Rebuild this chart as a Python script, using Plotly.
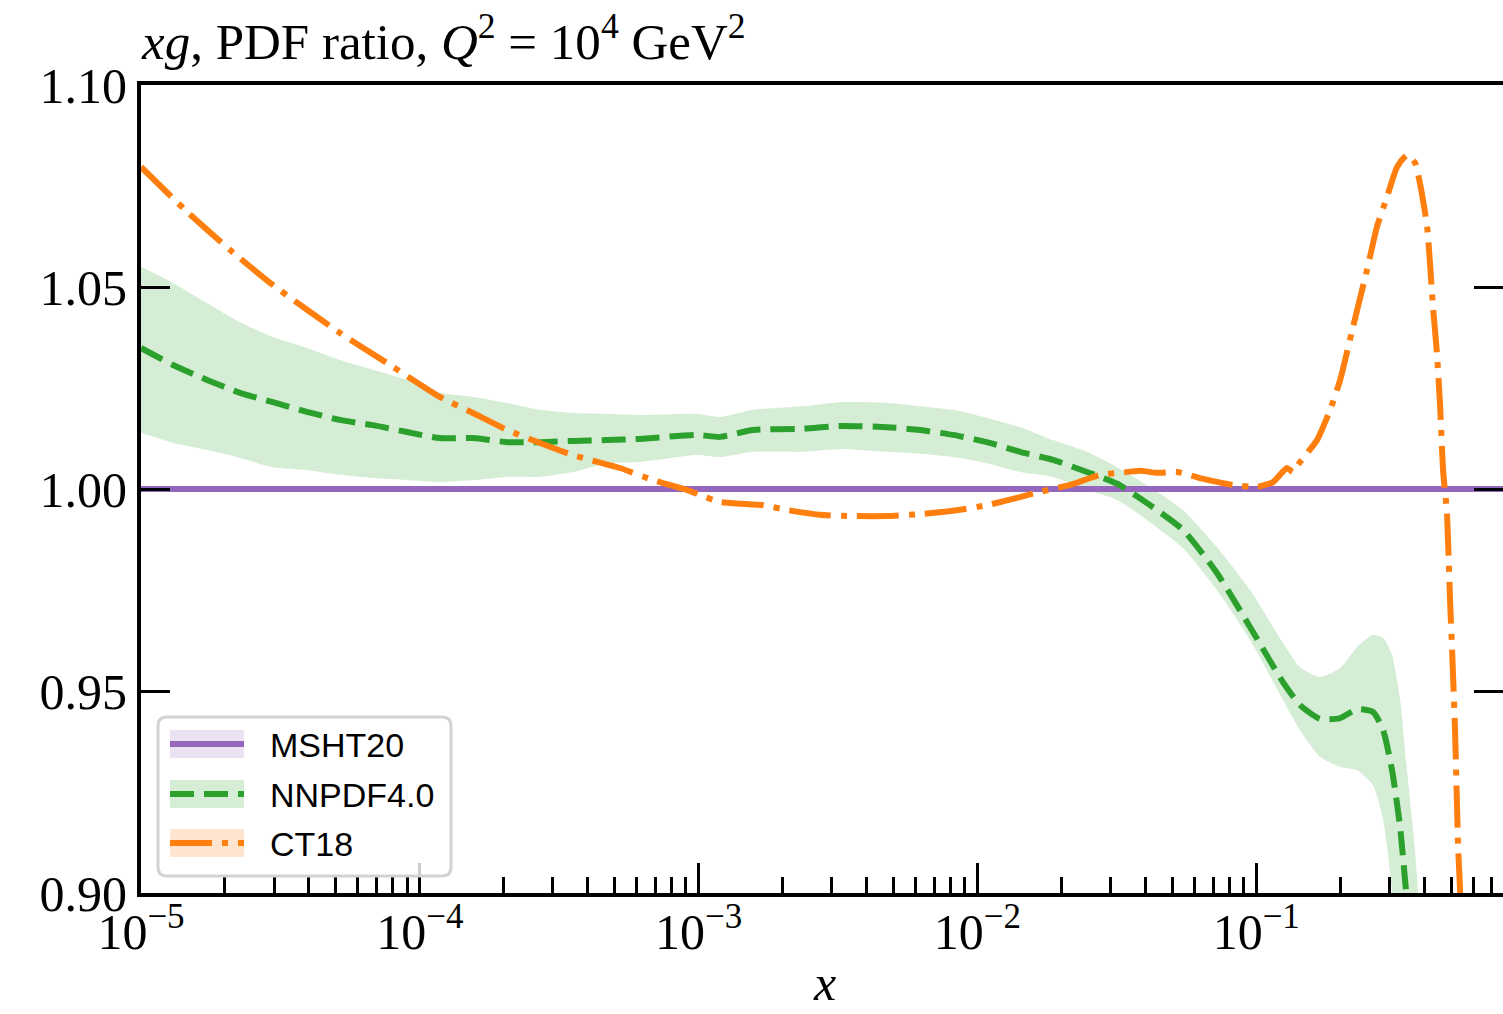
import math
import plotly.graph_objects as go

# Gluon PDF ratio to MSHT20 at Q^2 = 1e4 GeV^2

# MSHT20 (reference set, ratio identically one)
x_msht = [1.0e-5, 1.0]
r_msht = [1.0, 1.0]

# NNPDF4.0: central ratio and 1-sigma band
x_nnpdf = [1.000e-5, 1.303e-5, 1.726e-5, 2.265e-5, 2.972e-5, 3.936e-5, 5.176e-5, 6.792e-5, 8.995e-5,
           1.180e-4, 1.552e-4, 2.056e-4, 2.698e-4, 3.540e-4, 4.688e-4, 6.166e-4, 9.863e-4,
           1.194e-3, 1.567e-3, 2.366e-3, 3.214e-3, 4.742e-3, 6.223e-3, 8.166e-3,
           1.081e-2, 1.422e-2, 1.866e-2, 2.472e-2, 3.170e-2, 4.159e-2, 5.458e-2, 7.228e-2, 9.506e-2,
           0.1247, 0.1436, 0.1694, 0.2000, 0.2301, 0.2624, 0.2851, 0.3069, 0.3281, 0.3443, 0.3622, 0.3802]
r_nnpdf = [1.0349, 1.0307, 1.0270, 1.0238, 1.0215, 1.0191, 1.0171, 1.0158, 1.0141,
           1.0126, 1.0126, 1.0116, 1.0116, 1.0119, 1.0121, 1.0124, 1.0134,
           1.0129, 1.0146, 1.0149, 1.0156, 1.0153, 1.0146, 1.0134,
           1.0116, 1.0092, 1.0072, 1.0042, 1.0013, 0.9960, 0.9899, 0.9792, 0.9658,
           0.9522, 0.9465, 0.9431, 0.9433, 0.9455, 0.9448, 0.9403, 0.9304, 0.9163, 0.9007, 0.8850, 0.8700]
r_nnpdf_hi = [1.0550, 1.0510, 1.0460, 1.0413, 1.0376, 1.0349, 1.0319, 1.0295, 1.0270,
              1.0238, 1.0228, 1.0213, 1.0196, 1.0188, 1.0186, 1.0183, 1.0186,
              1.0178, 1.0196, 1.0205, 1.0215, 1.0213, 1.0205, 1.0196,
              1.0176, 1.0153, 1.0121, 1.0092, 1.0054, 1.0005, 0.9948, 0.9856, 0.9750,
              0.9619, 0.9559, 0.9535, 0.9557, 0.9609, 0.9639, 0.9631, 0.9589, 0.9478, 0.9329, 0.9181, 0.9007]
r_nnpdf_lo = [1.0139, 1.0114, 1.0097, 1.0077, 1.0054, 1.0047, 1.0035, 1.0027, 1.0022,
              1.0017, 1.0022, 1.0030, 1.0030, 1.0042, 1.0064, 1.0067, 1.0084,
              1.0079, 1.0092, 1.0092, 1.0099, 1.0092, 1.0087, 1.0079,
              1.0064, 1.0042, 1.0030, 0.9998, 0.9973, 0.9918, 0.9854, 0.9750, 0.9626,
              0.9478, 0.9403, 0.9337, 0.9312, 0.9304, 0.9267, 0.9181, 0.9007, 0.8700, 0.8500, 0.8300, 0.8100]

# CT18: central ratio
x_ct18 = [1.000e-5, 1.439e-5, 2.084e-5, 2.972e-5, 5.176e-5, 7.621e-5, 1.180e-4, 1.552e-4, 2.056e-4,
          2.698e-4, 3.540e-4, 5.224e-4, 6.855e-4, 9.078e-4, 1.012e-3, 1.194e-3, 1.702e-3, 2.075e-3,
          2.723e-3, 3.581e-3, 4.742e-3, 6.223e-3, 8.166e-3, 1.081e-2, 1.422e-2, 1.675e-2, 2.148e-2,
          2.754e-2, 3.243e-2, 3.828e-2, 4.406e-2, 5.200e-2, 6.281e-2, 8.260e-2, 0.1007, 0.1148,
          0.1288, 0.1355, 0.1436, 0.1652, 0.1841, 0.2000, 0.2223, 0.2495, 0.2710, 0.2944, 0.3199,
          0.3475, 0.3715, 0.3864, 0.4102, 0.4305, 0.4446, 0.4560, 0.4677, 0.4831, 0.4955, 0.5035,
          0.5164, 0.5297, 0.5383, 0.5521]
r_ct18 = [1.0797, 1.0691, 1.0592, 1.0505, 1.0386, 1.0312, 1.0228, 1.0188, 1.0146,
          1.0114, 1.0084, 1.0052, 1.0022, 0.9998, 0.9985, 0.9968, 0.9960, 0.9948,
          0.9936, 0.9933, 0.9933, 0.9938, 0.9946, 0.9960, 0.9980, 0.9993, 1.0010,
          1.0035, 1.0040, 1.0045, 1.0040, 1.0042, 1.0027, 1.0010, 1.0005, 1.0017,
          1.0052, 1.0042, 1.0067, 1.0121, 1.0196, 1.0270, 1.0401, 1.0542, 1.0649, 1.0723, 1.0797,
          1.0827, 1.0807, 1.0757, 1.0649, 1.0450, 1.0337, 1.0213, 1.0047, 0.9941, 0.9725, 0.9609,
          0.9403, 0.9114, 0.9007, 0.8800]

# axis ticks
y_ticks = [0.90, 0.95, 1.00, 1.05, 1.10]
y_ticktext = ["0.90", "0.95", "1.00", "1.05", "1.10"]
x_ticks = [1e-5, 1e-4, 1e-3, 1e-2, 1e-1]
x_ticktext = ["10<sup>\u22125</sup>", "10<sup>\u22124</sup>", "10<sup>\u22123</sup>",
              "10<sup>\u22122</sup>", "10<sup>\u22121</sup>"]
x_minor = [m * 10.0 ** e for e in range(-5, 0) for m in range(2, 10)]

legend_labels = ["MSHT20", "NNPDF4.0", "CT18"]

PURPLE = "#9467bd"
GREEN = "#2ca02c"
ORANGE = "#ff7f0e"

W, H = 1503, 1014
ML, MR, MT, MB = 141, 0, 85, 121
X_RANGE = [-5.0, -0.115]
Y_RANGE = [0.90, 1.10]

SERIF = "Liberation Serif"
SANS = "Liberation Sans"

fig = go.Figure()

# NNPDF4.0 uncertainty band
fig.add_trace(go.Scatter(
    x=x_nnpdf + x_nnpdf[::-1], y=r_nnpdf_hi + r_nnpdf_lo[::-1],
    fill="toself", fillcolor="rgba(44,160,44,0.2)", line=dict(width=0, shape="spline", smoothing=0.6),
    mode="lines", hoverinfo="skip", showlegend=False))

fig.add_trace(go.Scatter(
    x=x_msht, y=r_msht, mode="lines", line=dict(color=PURPLE, width=6), showlegend=False))

fig.add_trace(go.Scatter(
    x=x_nnpdf, y=r_nnpdf, mode="lines",
    line=dict(color=GREEN, width=6, dash="24px,10px", shape="spline", smoothing=0.6),
    showlegend=False))

fig.add_trace(go.Scatter(
    x=x_ct18, y=r_ct18, mode="lines",
    line=dict(color=ORANGE, width=6, dash="42px,10px,6px,10px", shape="spline", smoothing=0.5),
    showlegend=False))

# carrier for the right-hand tick axis
fig.add_trace(go.Scatter(x=[1e-5], y=[1.0], yaxis="y2", mode="markers",
                         marker=dict(opacity=0), hoverinfo="skip", showlegend=False))

plot_w = W - ML - MR
plot_h = H - MT - MB


def px_x(px):
    return (px - ML) / plot_w


def px_y(py):
    return (H - MB - py) / plot_h


shapes = []
annotations = []

# legend frame with rounded corners
lx0, lx1, ly0, ly1, rad = 158, 451, 717, 876, 9
path = (f"M {px_x(lx0 + rad)},{px_y(ly0)} L {px_x(lx1 - rad)},{px_y(ly0)} "
        f"Q {px_x(lx1)},{px_y(ly0)} {px_x(lx1)},{px_y(ly0 + rad)} "
        f"L {px_x(lx1)},{px_y(ly1 - rad)} Q {px_x(lx1)},{px_y(ly1)} {px_x(lx1 - rad)},{px_y(ly1)} "
        f"L {px_x(lx0 + rad)},{px_y(ly1)} Q {px_x(lx0)},{px_y(ly1)} {px_x(lx0)},{px_y(ly1 - rad)} "
        f"L {px_x(lx0)},{px_y(ly0 + rad)} Q {px_x(lx0)},{px_y(ly0)} {px_x(lx0 + rad)},{px_y(ly0)} Z")
shapes.append(dict(type="path", path=path, xref="paper", yref="paper", layer="above",
                   fillcolor="rgba(255,255,255,0.8)", line=dict(color="#d3d3d3", width=3)))

entry_style = [
    (PURPLE, "rgba(148,103,189,0.2)", "solid"),
    (GREEN, "rgba(44,160,44,0.2)", "24px,10px"),
    (ORANGE, "rgba(255,127,14,0.2)", "42px,10px,6px,10px"),
]
entry_y = [744, 794, 843]
for label, (col, band, dash), yc in zip(legend_labels, entry_style, entry_y):
    shapes.append(dict(type="rect", xref="paper", yref="paper", layer="above",
                       x0=px_x(170), x1=px_x(244), y0=px_y(yc - 14), y1=px_y(yc + 14),
                       fillcolor=band, line=dict(width=0)))
    shapes.append(dict(type="line", xref="paper", yref="paper", layer="above",
                       x0=px_x(170), x1=px_x(244), y0=px_y(yc), y1=px_y(yc),
                       line=dict(color=col, width=6, dash=dash)))
    annotations.append(dict(text=label, xref="paper", yref="paper", x=px_x(268), y=px_y(yc + 1),
                            xanchor="left", yanchor="middle", showarrow=False,
                            font=dict(family=SANS, size=34, color="black")))

# panel title
annotations.append(dict(
    text="<i>xg</i>, PDF ratio, <i>Q</i><sup>2</sup> = 10<sup>4</sup> GeV<sup>2</sup>",
    xref="paper", yref="paper", x=px_x(139), y=px_y(72), xanchor="left", yanchor="bottom",
    showarrow=False, font=dict(family=SERIF, size=51, color="black")))

# x-axis label
annotations.append(dict(text="<i>x</i>", xref="paper", yref="paper", x=px_x(824), y=px_y(1013),
                        xanchor="center", yanchor="bottom", showarrow=False,
                        font=dict(family=SERIF, size=50, color="black")))

fig.update_layout(
    width=W, height=H,
    margin=dict(l=ML, r=MR, t=MT, b=MB, pad=0),
    paper_bgcolor="white", plot_bgcolor="white",
    showlegend=False,
    shapes=shapes, annotations=annotations,
    xaxis=dict(type="log", range=X_RANGE, showgrid=False, zeroline=False,
               showline=True, linecolor="black", linewidth=4, mirror=True,
               tickmode="array", tickvals=x_ticks, ticktext=x_ticktext,
               ticks="inside", ticklen=30, tickwidth=3, tickcolor="black",
               ticklabelstandoff=-8,
               tickfont=dict(family=SERIF, size=50, color="black"),
               minor=dict(tickmode="array", tickvals=x_minor, ticks="inside",
                          ticklen=16, tickwidth=2.5, tickcolor="black", showgrid=False)),
    yaxis=dict(range=Y_RANGE, showgrid=False, zeroline=False,
               showline=True, linecolor="black", linewidth=4, mirror=False,
               tickmode="array", tickvals=y_ticks, ticktext=y_ticktext,
               ticks="inside", ticklen=29, tickwidth=3, tickcolor="black",
               tickfont=dict(family=SERIF, size=50, color="black")),
    yaxis2=dict(range=Y_RANGE, overlaying="y", side="right", anchor="x",
                showgrid=False, zeroline=False, showline=False,
                tickmode="array", tickvals=y_ticks, showticklabels=False,
                ticks="inside", ticklen=29, tickwidth=3, tickcolor="black"),
)

fig.write_html("out.html")
